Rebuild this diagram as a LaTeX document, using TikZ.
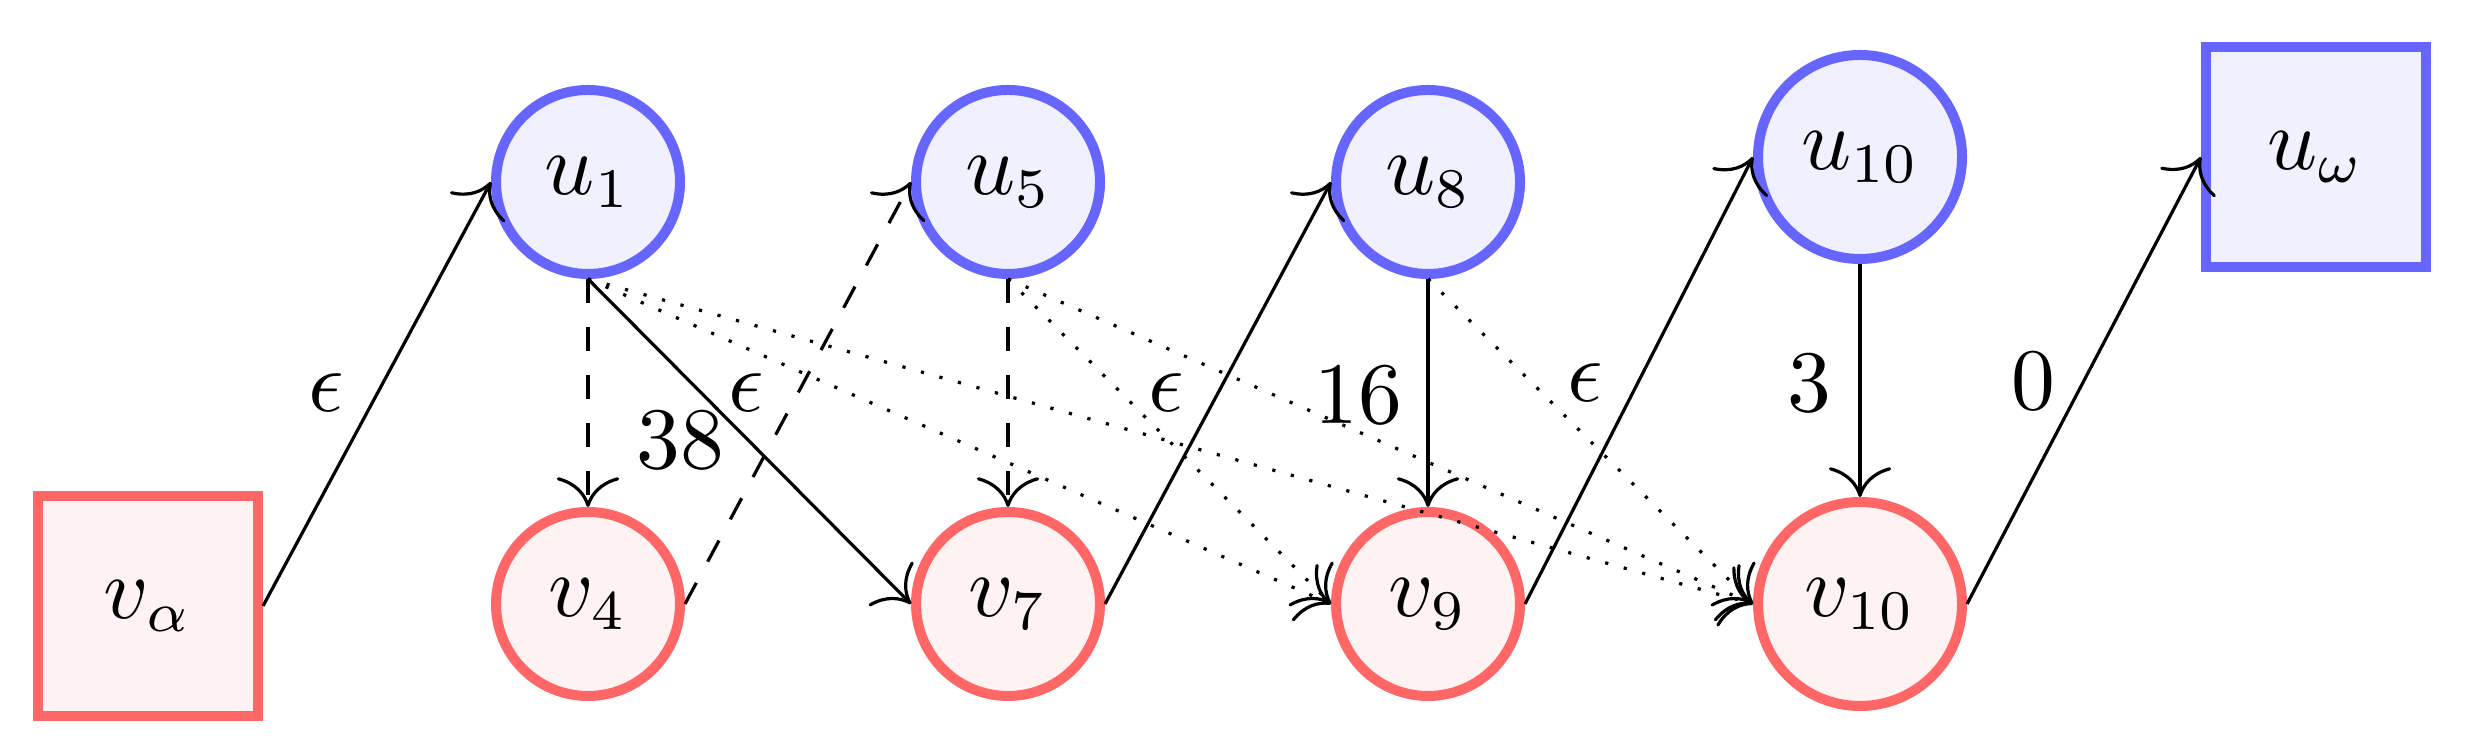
\documentclass[tikz,border=0pt]{standalone}
\usetikzlibrary{arrows.meta}
\definecolor{bl}{RGB}{102,102,255}
\definecolor{blf}{RGB}{240,240,255}
\definecolor{rd}{RGB}{255,102,102}
\definecolor{rdf}{RGB}{255,242,242}
\begin{document}
\begin{tikzpicture}[x=0.125pt,y=-0.125pt,
  font=\fontsize{10.5}{12}\selectfont,
  unode/.style={circle,draw=bl,fill=blf,line width=1.25pt,minimum size=23pt,inner sep=0pt},
  vnode/.style={circle,draw=rd,fill=rdf,line width=1.25pt,minimum size=23pt,inner sep=0pt},
  bigc/.style={minimum size=25.5pt},
  usq/.style={rectangle,draw=bl,fill=blf,line width=1.25pt,minimum size=27.5pt},
  vsq/.style={rectangle,draw=rd,fill=rdf,line width=1.25pt,minimum size=27.5pt},
  arr/.style={-{To[scale=1.5]},line width=0.4pt},
  lab/.style={inner sep=0pt}]
\useasboundingbox (0,0) rectangle (2465,751);
\node[vsq] (va) at (148,606) {$v_\alpha$};
\node[unode] (u1) at (588,182) {$u_1$};
\node[vnode] (v4) at (588,604) {$v_4$};
\node[unode] (u5) at (1008,182) {$u_5$};
\node[vnode] (v7) at (1008,604) {$v_7$};
\node[unode] (u8) at (1428,182) {$u_8$};
\node[vnode] (v9) at (1428,604) {$v_9$};
\node[unode,bigc] (u10) at (1860,157) {$u_{10}$};
\node[vnode,bigc] (v10) at (1860,604) {$v_{10}$};
\node[usq] (uw) at (2316,157) {$u_\omega$};

\draw[arr] (va.east) -- (u1.west);
\draw[arr,dashed] (u1) -- (v4);
\draw[arr] (u1.south) -- (v7.west);
\draw[arr,dashed] (v4.east) -- (u5.west);
\draw[arr,dotted] (u1.south) -- (v9.west);
\draw[arr,dotted] (u1.south) -- (v10.west);
\draw[arr,dashed] (u5) -- (v7);
\draw[arr,dotted] (u5.south) -- (v9.west);
\draw[arr,dotted] (u5.south) -- (v10.west);
\draw[arr] (v7.east) -- (u8.west);
\draw[arr] (u8) -- (v9);
\draw[arr,dotted] (u8.south) -- (v10.west);
\draw[arr] (v9.east) -- (u10.west);
\draw[arr] (u10) -- (v10);
\draw[arr] (v10.east) -- (uw.west);

\node[lab] (l1) at (326,393) {$\epsilon$};
\node[lab] (l2) at (680,440) {$38$};
\node[lab] (l3) at (746,393) {$\epsilon$};
\node[lab] (l4) at (1166,393) {$\epsilon$};
\node[lab] (l5) at (1358,395) {$16$};
\node[lab] (l6) at (1585,383) {$\epsilon$};
\node[lab] (l7) at (1809,383) {$3$};
\node[lab] (l8) at (2033,381) {$0$};
\end{tikzpicture}
\end{document}
